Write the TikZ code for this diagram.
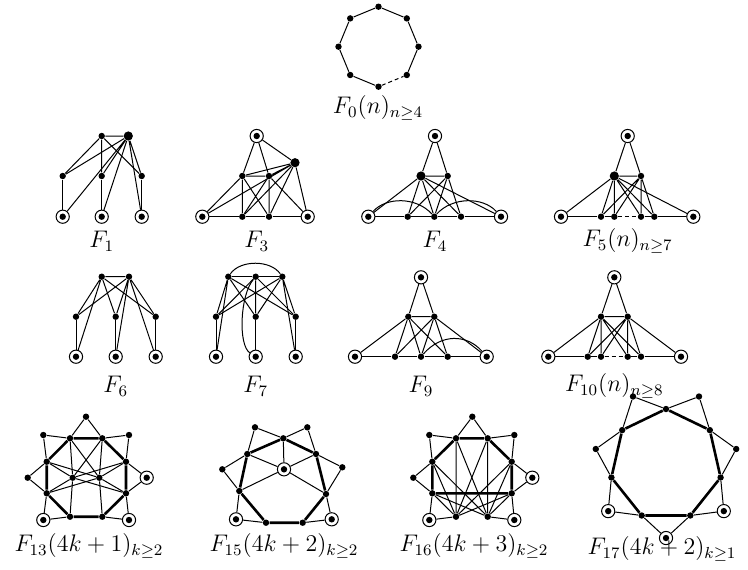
\documentclass[tikz,border=0pt]{standalone}
\usepackage{amsmath,amssymb}
\usepackage{tikz}

\begin{document}
\begin{tikzpicture}[
    x=0.5pt, y=-0.5pt,
    dot/.style={circle, fill=black, inner sep=0pt, minimum size=3.2pt},
    bigdot/.style={circle, fill=black, inner sep=0pt, minimum size=4.6pt},
    ring/.style={circle, draw=black, line width=0.5pt, inner sep=0pt, minimum size=6.6pt,
        path picture={\fill[black] (path picture bounding box.center) circle (1.6pt);}},
    link/.style={line width=0.5pt},
    cyc/.style={line width=1.3pt},
    gap/.style={line width=0.5pt, dash pattern=on 2pt off 1.5pt},
    lbl/.style={inner sep=0pt, font=\fontsize{11.8}{14}\selectfont},
]
\useasboundingbox (0,0) rectangle (748,569);

% F0
\node[dot] (za) at (378.5,6.7) {};
\node[dot] (zb) at (406.8,18.4) {};
\node[dot] (zc) at (418.5,46.7) {};
\node[dot] (zd) at (406.8,75) {};
\node[dot] (ze) at (378.5,86.7) {};
\node[dot] (zf) at (350.2,75) {};
\node[dot] (zg) at (338.5,46.7) {};
\node[dot] (zh) at (350.2,18.4) {};
\draw[link] (zd)--(zc)--(zb)--(za)--(zh)--(zg)--(zf)--(ze);
\draw[gap] (ze)--(zd);
\node[lbl] (lz) at (378,108) {$F_0(n)_{n\geq 4}$};

% F1
\node[dot] (aa) at (101.7,136) {};
\node[bigdot] (ab) at (128.3,136) {};
\node[dot] (ac) at (62.7,176) {};
\node[dot] (ad) at (101.7,176) {};
\node[dot] (ae) at (141.7,176) {};
\node[ring] (af) at (62.7,216.7) {};
\node[ring] (ag) at (101.7,216.7) {};
\node[ring] (ah) at (141.7,216.7) {};
\draw[link] (aa)--(ab) (aa)--(ac) (aa)--(ad) (aa)--(ae);
\draw[link] (ab)--(ac) (ab)--(ad) (ab)--(ae) (ab)--(af) (ab)--(ag) (ab)--(ah);
\draw[link] (ac)--(af) (ad)--(ag) (ae)--(ah);
\node[lbl] (la) at (101.7,241) {$F_1$};

% F3
\node[ring] (bt) at (256.7,136) {};
\node[bigdot] (bb) at (295,162.7) {};
\node[dot] (bp) at (242.3,176) {};
\node[dot] (bq) at (269,176) {};
\node[ring] (bl) at (202.3,216.7) {};
\node[dot] (bu) at (242.3,216.7) {};
\node[dot] (bv) at (269,216.7) {};
\node[ring] (br) at (307.7,216.7) {};
\draw[link] (bt)--(bp) (bt)--(bq) (bt)--(bb) (bp)--(bq) (bp)--(bu) (bq)--(bv);
\draw[link] (bl)--(bp) (bl)--(bb) (bp)--(bb) (bq)--(bb) (bb)--(br) (bb)--(bu) (bb)--(bv);
\draw[link] (bp)--(bv) (bq)--(bu) (bq)--(br);
\draw[link] (bl)--(bu)--(bv)--(br);
\node[lbl] (lb) at (256.7,241) {$F_3$};

% F4
\node[ring] (ct) at (435,136) {};
\node[bigdot] (cp) at (421,176) {};
\node[dot] (cq) at (447.7,176) {};
\node[ring] (cl) at (368.3,216.7) {};
\node[dot] (cu) at (407.7,216.7) {};
\node[dot] (cv) at (434.3,216.7) {};
\node[dot] (cw) at (461,216.7) {};
\node[ring] (cr) at (501,216.7) {};
\draw[link] (ct)--(cp) (ct)--(cq) (cp)--(cq) (cp)--(cl) (cp)--(cr);
\draw[link] (cp)--(cu) (cp)--(cv) (cp)--(cw) (cq)--(cu) (cq)--(cv) (cq)--(cw);
\draw[link] (cl)--(cu)--(cv)--(cw)--(cr);
\draw[link] (cl) .. controls +(18,-20) and +(-18,-20) .. (cv);
\draw[link] (cv) .. controls +(18,-20) and +(-18,-20) .. (cr);
\node[lbl] (lc) at (435,241) {$F_4$};

% F5
\node[ring] (dt) at (627.7,136) {};
\node[bigdot] (dp) at (614.3,176) {};
\node[dot] (dq) at (641,176) {};
\node[ring] (dl) at (561,216.7) {};
\node[dot] (du) at (601,216.7) {};
\node[dot] (dv) at (614.3,216.7) {};
\node[dot] (dw) at (641,216.7) {};
\node[dot] (dx) at (654.3,216.7) {};
\node[ring] (dr) at (693.3,216.7) {};
\draw[link] (dt)--(dp) (dt)--(dq) (dp)--(dq) (dp)--(dl) (dp)--(dr);
\draw[link] (dp)--(du) (dp)--(dv) (dp)--(dw) (dp)--(dx);
\draw[link] (dq)--(du) (dq)--(dv) (dq)--(dw) (dq)--(dx);
\draw[link] (dl)--(du)--(dv) (dw)--(dx)--(dr);
\draw[gap] (dv)--(dw);
\node[lbl] (ld) at (627.7,241) {$F_5(n)_{n\geq 7}$};

% F6
\node[dot] (ea) at (101.7,276.7) {};
\node[dot] (eb) at (129,276.7) {};
\node[dot] (ec) at (76,316.7) {};
\node[dot] (ed) at (115.7,316.7) {};
\node[dot] (ee) at (155.7,316.7) {};
\node[ring] (ef) at (76,356.7) {};
\node[ring] (eg) at (115.7,356.7) {};
\node[ring] (eh) at (155.7,356.7) {};
\draw[link] (ea)--(eb) (ea)--(ec) (ea)--(ef) (ea)--(ed) (ea)--(ee);
\draw[link] (eb)--(ec) (eb)--(ed) (eb)--(eg) (eb)--(ee) (eb)--(eh);
\draw[link] (ec)--(ef) (ed)--(eg) (ee)--(eh);
\node[lbl] (le) at (115.7,386) {$F_6$};

% F7
\node[dot] (fa) at (228.3,276.7) {};
\node[dot] (fb) at (255.7,276.7) {};
\node[dot] (fc) at (282.3,276.7) {};
\node[dot] (fp) at (216,316.7) {};
\node[dot] (fq) at (255.7,316.7) {};
\node[dot] (fs) at (295.7,316.7) {};
\node[ring] (ff) at (216,356.7) {};
\node[ring] (fg) at (255.7,356.7) {};
\node[ring] (fh) at (295.7,356.7) {};
\draw[link] (fa)--(fb)--(fc);
\draw[link] (fa) .. controls +(12,-17) and +(-12,-17) .. (fc);
\draw[link] (fa)--(fp) (fa)--(ff) (fa)--(fq) (fa)--(fs);
\draw[link] (fb)--(fp) (fb)--(fq) (fb)--(fs);
\draw[link] (fc)--(fp) (fc)--(fq) (fc)--(fs) (fc)--(fh);
\draw[link] (fp)--(ff) (fq)--(fg) (fs)--(fh);
\draw[link] (fb) .. controls (240,295) and (238,345) .. (fg);
\node[lbl] (lf) at (255.7,386) {$F_7$};

% F9
\node[ring] (gt) at (421,277.3) {};
\node[dot] (gp) at (408.3,316.7) {};
\node[dot] (gq) at (434.3,316.7) {};
\node[ring] (gl) at (355,356.7) {};
\node[dot] (gu) at (395,356.7) {};
\node[dot] (gv) at (421,356.7) {};
\node[dot] (gw) at (447.7,356.7) {};
\node[ring] (gr) at (486.7,356.7) {};
\draw[link] (gt)--(gp) (gt)--(gq) (gp)--(gq) (gp)--(gl) (gq)--(gr);
\draw[link] (gp)--(gu) (gp)--(gv) (gp)--(gw) (gq)--(gu) (gq)--(gv) (gq)--(gw);
\draw[link] (gl)--(gu)--(gv)--(gw)--(gr);
\draw[link] (gv) .. controls +(20,-23) and +(-20,-23) .. (gr);
\node[lbl] (lg) at (421,386) {$F_9$};

% F10
\node[ring] (ht) at (614.3,277.3) {};
\node[dot] (hp) at (601,316.7) {};
\node[dot] (hq) at (627.7,316.7) {};
\node[ring] (hl) at (548.3,356.7) {};
\node[dot] (hu) at (587.7,356.7) {};
\node[dot] (hv) at (601,356.7) {};
\node[dot] (hw) at (627.7,356.7) {};
\node[dot] (hx) at (641,356.7) {};
\node[ring] (hr) at (681,356.7) {};
\draw[link] (ht)--(hp) (ht)--(hq) (hp)--(hq) (hp)--(hl) (hq)--(hr);
\draw[link] (hp)--(hu) (hp)--(hv) (hp)--(hw) (hp)--(hx);
\draw[link] (hq)--(hu) (hq)--(hv) (hq)--(hw) (hq)--(hx);
\draw[link] (hl)--(hu)--(hv) (hw)--(hx)--(hr);
\draw[gap] (hv)--(hw);
\node[lbl] (lh) at (614.3,386) {$F_{10}(n)_{n\geq 8}$};

% F13
\node[dot] (ia) at (86,416.7) {};
\node[dot] (ib) at (43.3,435) {};
\node[dot] (ic) at (129,435) {};
\node[dot] (i1) at (70,438.3) {};
\node[dot] (i2) at (102.3,438.3) {};
\node[dot] (i3) at (126,461.7) {};
\node[dot] (i4) at (126,493.3) {};
\node[dot] (i5) at (102.3,516.7) {};
\node[dot] (i6) at (70,516.7) {};
\node[dot] (i7) at (46.7,493.3) {};
\node[dot] (i8) at (46.7,461.7) {};
\node[dot] (id) at (27.7,477.7) {};
\node[ring] (ie) at (146.7,477.7) {};
\node[ring] (if) at (43.3,520) {};
\node[ring] (ig) at (129,520) {};
\node[dot] (ix) at (72.7,477.7) {};
\node[dot] (iy) at (99.3,477.7) {};
\draw[link] (ia)--(i1) (ia)--(i2) (ib)--(i1) (ib)--(i8) (ic)--(i2) (ic)--(i3);
\draw[link] (id)--(i8) (id)--(i7) (ie)--(i3) (ie)--(i4) (if)--(i7) (if)--(i6) (ig)--(i5) (ig)--(i4);
\draw[link] (ix)--(i1) (ix)--(i2) (ix)--(i6) (ix)--(i3) (ix)--(i4) (ix)--(i7) (ix)--(i8);
\draw[link] (iy)--(i1) (iy)--(i2) (iy)--(i5) (iy)--(i3) (iy)--(i4) (iy)--(i7) (iy)--(i8);
\draw[cyc] (i1)--(i2)--(i3)--(i4)--(i5)--(i6)--(i7)--(i8)--(i1);
\node[lbl] (li) at (89,546) {$F_{13}(4k+1)_{k\geq 2}$};

% F15
\node[dot] (j1) at (283.3,438.3) {};
\node[dot] (j2) at (316,454) {};
\node[dot] (j3) at (326,494) {};
\node[dot] (j4) at (302.7,522.7) {};
\node[dot] (j5) at (266,522.7) {};
\node[dot] (j6) at (239.3,491) {};
\node[dot] (j7) at (247.3,454) {};
\node[ring] (jc) at (284,469.3) {};
\node[dot] (ja) at (255,427.3) {};
\node[dot] (jb) at (307.3,427.3) {};
\node[dot] (jd) at (222.3,469.3) {};
\node[dot] (je) at (342.3,467.3) {};
\node[ring] (jf) at (236,519.3) {};
\node[ring] (jg) at (331.7,519.3) {};
\draw[link] (ja)--(j1) (ja)--(j7) (jb)--(j1) (jb)--(j2) (jd)--(j7) (jd)--(j6);
\draw[link] (je)--(j2) (je)--(j3) (jf)--(j6) (jf)--(j5) (jg)--(j4) (jg)--(j3);
\draw[link] (jc)--(j1) (jc)--(j2) (jc)--(j3) (jc)--(j6) (jc)--(j7);
\draw[cyc] (j1)--(j2)--(j3)--(j4)--(j5)--(j6)--(j7)--(j1);
\node[lbl] (lj) at (284,546) {$F_{15}(4k+2)_{k\geq 2}$};

% F16
\node[dot] (ka) at (472.3,416.7) {};
\node[dot] (kb) at (429.3,435) {};
\node[dot] (kc) at (514.3,435) {};
\node[dot] (k1) at (456,438.3) {};
\node[dot] (k2) at (487.7,438.3) {};
\node[dot] (k3) at (511.7,461.7) {};
\node[dot] (k4) at (511.7,493.3) {};
\node[dot] (k5) at (432.3,493.3) {};
\node[dot] (k6) at (432.3,461.7) {};
\node[dot] (kd) at (413.3,477.7) {};
\node[ring] (ke) at (532.3,477.7) {};
\node[ring] (kf) at (429.3,520) {};
\node[ring] (kg) at (514.3,520) {};
\node[dot] (kx) at (456,516.7) {};
\node[dot] (ky) at (487.7,516.7) {};
\draw[link] (ka)--(k1) (ka)--(k2) (kb)--(k1) (kb)--(k6) (kc)--(k2) (kc)--(k3);
\draw[link] (kd)--(k6) (kd)--(k5) (ke)--(k3) (ke)--(k4) (kf)--(k5) (kf)--(kx) (kg)--(k4) (kg)--(ky);
\draw[link] (kx)--(k1) (kx)--(k2) (kx)--(k3) (kx)--(k4) (kx)--(k5) (kx)--(k6);
\draw[link] (ky)--(k1) (ky)--(k2) (ky)--(k3) (ky)--(k4) (ky)--(k5) (ky)--(k6);
\draw[cyc] (k1)--(k2)--(k3)--(k4)--(k5)--(k6)--(k1);
\node[lbl] (lk) at (474,546) {$F_{16}(4k+3)_{k\geq 2}$};

% F17
\node[dot] (m1) at (666,409) {};
\node[dot] (m2) at (709.8,430.1) {};
\node[dot] (m3) at (720.6,477.5) {};
\node[dot] (m4) at (690.3,515.5) {};
\node[dot] (m5) at (641.7,515.5) {};
\node[dot] (m6) at (611.4,477.5) {};
\node[dot] (m7) at (622.2,430.1) {};
\node[dot] (ma) at (699,396.5) {};
\node[dot] (mb) at (736.2,449) {};
\node[ring] (mc) at (723.8,511.1) {};
\node[ring] (md) at (666,538) {};
\node[ring] (me) at (608.2,511.1) {};
\node[dot] (mf) at (595.8,449) {};
\node[dot] (mg) at (633,396.5) {};
\draw[link] (ma)--(m1) (ma)--(m2) (mb)--(m2) (mb)--(m3) (mc)--(m3) (mc)--(m4) (md)--(m4) (md)--(m5);
\draw[link] (me)--(m5) (me)--(m6) (mf)--(m6) (mf)--(m7) (mg)--(m7) (mg)--(m1);
\draw[cyc] (m1)--(m2)--(m3)--(m4)--(m5)--(m6)--(m7)--(m1);
\node[lbl] (lm) at (662,549) {$F_{17}(4k+2)_{k\geq 1}$};
\end{tikzpicture}
\end{document}
